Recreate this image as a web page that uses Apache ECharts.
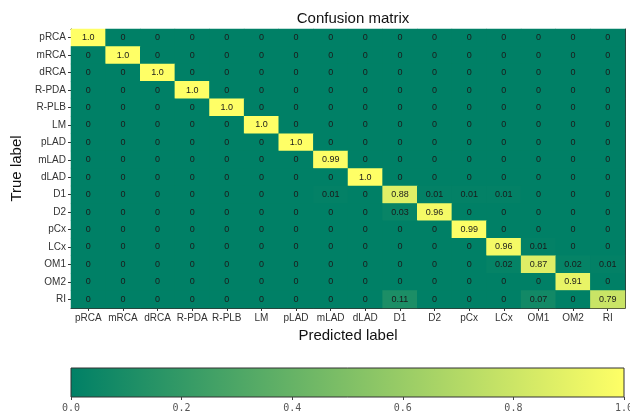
<!DOCTYPE html>
<html>
<head>
<meta charset="utf-8">
<script src="https://cdn.jsdelivr.net/npm/echarts@6/dist/echarts.min.js"></script>
<style>
  html, body { margin: 0; padding: 0; background: #fff; }
  #chart { width: 630px; height: 412px; }
</style>
</head>
<body>
<div id="chart"></div>
<script>
// Segment classes (same order for true and predicted labels)
const predictedLabels = ['pRCA', 'mRCA', 'dRCA', 'R-PDA', 'R-PLB', 'LM', 'pLAD', 'mLAD',
  'dLAD', 'D1', 'D2', 'pCx', 'LCx', 'OM1', 'OM2', 'RI'];
const trueLabels = predictedLabels.slice();

// Normalised confusion matrix, one row per true label
const rowPRCA = [1, 0, 0, 0, 0, 0, 0, 0, 0, 0, 0, 0, 0, 0, 0, 0];
const rowMRCA = [0, 1, 0, 0, 0, 0, 0, 0, 0, 0, 0, 0, 0, 0, 0, 0];
const rowDRCA = [0, 0, 1, 0, 0, 0, 0, 0, 0, 0, 0, 0, 0, 0, 0, 0];
const rowRPDA = [0, 0, 0, 1, 0, 0, 0, 0, 0, 0, 0, 0, 0, 0, 0, 0];
const rowRPLB = [0, 0, 0, 0, 1, 0, 0, 0, 0, 0, 0, 0, 0, 0, 0, 0];
const rowLM   = [0, 0, 0, 0, 0, 1, 0, 0, 0, 0, 0, 0, 0, 0, 0, 0];
const rowPLAD = [0, 0, 0, 0, 0, 0, 1, 0, 0, 0, 0, 0, 0, 0, 0, 0];
const rowMLAD = [0, 0, 0, 0, 0, 0, 0, 0.99, 0, 0, 0, 0, 0, 0, 0, 0];
const rowDLAD = [0, 0, 0, 0, 0, 0, 0, 0, 1, 0, 0, 0, 0, 0, 0, 0];
const rowD1   = [0, 0, 0, 0, 0, 0, 0, 0.01, 0, 0.88, 0.01, 0.01, 0.01, 0, 0, 0];
const rowD2   = [0, 0, 0, 0, 0, 0, 0, 0, 0, 0.03, 0.96, 0, 0, 0, 0, 0];
const rowPCX  = [0, 0, 0, 0, 0, 0, 0, 0, 0, 0, 0, 0.99, 0, 0, 0, 0];
const rowLCX  = [0, 0, 0, 0, 0, 0, 0, 0, 0, 0, 0, 0, 0.96, 0.01, 0, 0];
const rowOM1  = [0, 0, 0, 0, 0, 0, 0, 0, 0, 0, 0, 0, 0.02, 0.87, 0.02, 0.01];
const rowOM2  = [0, 0, 0, 0, 0, 0, 0, 0, 0, 0, 0, 0, 0, 0, 0.91, 0];
const rowRI   = [0, 0, 0, 0, 0, 0, 0, 0, 0, 0.11, 0, 0, 0, 0.07, 0, 0.79];

const matrixRows = [rowPRCA, rowMRCA, rowDRCA, rowRPDA, rowRPLB, rowLM, rowPLAD, rowMLAD,
  rowDLAD, rowD1, rowD2, rowPCX, rowLCX, rowOM1, rowOM2, rowRI];

// Colour bar range and tick step
const colorbarMin = 0;
const colorbarMax = 1;
const colorbarStep = 0.2;

// "summer" colour map end points
const summerLow = '#008066';
const summerHigh = '#ffff66';

const cells = [];
matrixRows.forEach((row, r) => {
  row.forEach((v, c) => cells.push([c, r, v]));
});

function cellText(v) {
  if (v === 1) return '1.0';
  if (v === 0) return '0';
  return v.toFixed(2);
}

const FONT = 'Liberation Sans, Arial, sans-serif';
const noSplit = { show: false };

const chart = echarts.init(document.getElementById('chart'), null, { renderer: 'canvas' });

chart.setOption({
  animation: false,
  backgroundColor: '#ffffff',
  title: {
    text: 'Confusion matrix',
    left: 348,
    textAlign: 'center',
    top: 6,
    textStyle: { fontFamily: FONT, fontSize: 15, fontWeight: 'normal', color: '#111' }
  },
  grid: [
    {
      left: 71, right: 5, top: 29, bottom: 104, outerBoundsMode: 'none',
      // base colour under the cells so sub-pixel seams stay invisible
      show: true, backgroundColor: summerLow, borderWidth: 0
    },
    {
      left: 71, right: 6, top: 368, height: 29, show: true, outerBoundsMode: 'none',
      backgroundColor: new echarts.graphic.LinearGradient(0, 0, 1, 0, [
        { offset: 0, color: summerLow },
        { offset: 1, color: summerHigh }
      ]),
      borderColor: '#333', borderWidth: 1
    }
  ],
  visualMap: {
    show: false,
    type: 'continuous',
    min: colorbarMin,
    max: colorbarMax,
    seriesIndex: 0,
    inRange: { color: [summerLow, summerHigh] }
  },
  xAxis: [
    {
      type: 'category',
      gridIndex: 0,
      data: predictedLabels,
      name: 'Predicted label',
      nameLocation: 'middle',
      nameGap: 20,
      nameTextStyle: { fontFamily: FONT, fontSize: 15, color: '#111' },
      axisLine: { show: true, lineStyle: { color: '#333', width: 1 } },
      axisTick: { show: true, alignWithLabel: true, length: 3, lineStyle: { color: '#333' } },
      axisLabel: { fontFamily: FONT, fontSize: 10, color: '#333', margin: 5, interval: 0 },
      splitLine: noSplit,
      splitArea: noSplit
    },
    {
      type: 'category',
      gridIndex: 0,
      position: 'top',
      data: predictedLabels,
      axisLine: { show: true, lineStyle: { color: '#333', width: 1 } },
      axisTick: { show: false },
      axisLabel: { show: false },
      splitLine: noSplit,
      splitArea: noSplit
    },
    {
      type: 'value',
      gridIndex: 1,
      min: colorbarMin,
      max: colorbarMax,
      interval: colorbarStep,
      axisLine: { show: false },
      axisTick: { show: true, length: 3, lineStyle: { color: '#444' } },
      axisLabel: {
        fontFamily: 'DejaVu Sans Mono, monospace', fontSize: 10, color: '#555', margin: 6,
        formatter: v => v.toFixed(1)
      },
      splitLine: noSplit,
      splitArea: noSplit
    }
  ],
  yAxis: [
    {
      type: 'category',
      gridIndex: 0,
      data: trueLabels,
      inverse: true,
      name: 'True label',
      nameLocation: 'middle',
      nameGap: 41,
      nameTextStyle: { fontFamily: FONT, fontSize: 15, color: '#111' },
      axisLine: { show: true, lineStyle: { color: '#333', width: 1 } },
      axisTick: { show: true, alignWithLabel: true, length: 3, lineStyle: { color: '#333' } },
      axisLabel: { fontFamily: FONT, fontSize: 10, color: '#333', margin: 5, interval: 0 },
      splitLine: noSplit,
      splitArea: noSplit
    },
    {
      type: 'category',
      gridIndex: 0,
      position: 'right',
      data: trueLabels,
      inverse: true,
      axisLine: { show: true, lineStyle: { color: '#333', width: 1 } },
      axisTick: { show: false },
      axisLabel: { show: false },
      splitLine: noSplit,
      splitArea: noSplit
    },
    {
      type: 'value',
      gridIndex: 1,
      min: colorbarMin,
      max: colorbarMax,
      show: false,
      splitLine: noSplit
    }
  ],
  series: [
    {
      type: 'heatmap',
      xAxisIndex: 0,
      yAxisIndex: 0,
      data: cells,
      label: {
        show: true,
        fontFamily: FONT,
        fontSize: 9,
        color: '#1a1a1a',
        formatter: p => cellText(p.value[2])
      },
      itemStyle: { borderWidth: 0 },
      emphasis: { disabled: true }
    }
  ]
});
</script>
</body>
</html>
